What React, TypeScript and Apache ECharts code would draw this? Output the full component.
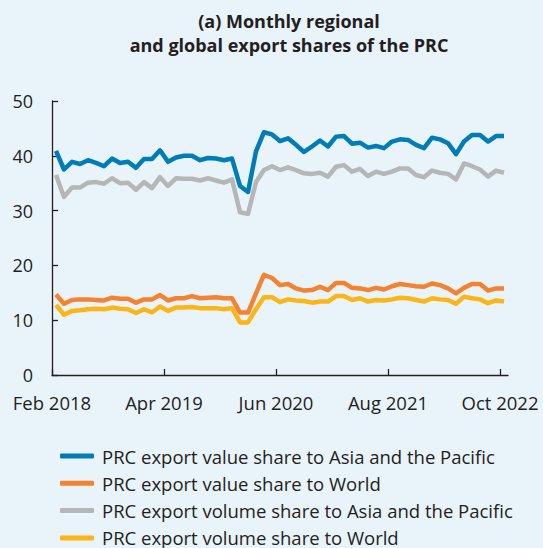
import React, { useEffect, useRef } from "react";
import * as echarts from "echarts";

const tickIndexes = [0, 14, 28, 42, 56];
const tickLabels = ["Feb 2018", "Apr 2019", "Jun 2020", "Aug 2021", "Oct 2022"];

const seriesNames = [
  "PRC export value share to Asia and the Pacific",
  "PRC export value share to World",
  "PRC export volume share to Asia and the Pacific",
  "PRC export volume share to World",
];

const valueAsia = [
  40.9, 37.5, 38.9, 38.5, 39.2, 38.7, 38.1, 39.5, 38.7, 38.9,
  37.8, 39.4, 39.4, 41.0, 38.9, 39.7, 40.0, 40.0, 39.2, 39.6,
  39.5, 39.2, 39.5, 34.5, 33.4, 40.8, 44.3, 43.9, 42.7, 43.2,
  42.0, 40.7, 41.7, 42.8, 41.7, 43.5, 43.6, 42.2, 42.4, 41.5,
  41.8, 41.4, 42.6, 43.0, 42.9, 42.0, 41.4, 43.3, 43.0, 42.3,
  40.3, 42.6, 43.8, 43.8, 42.6, 43.6, 43.6,
];

const valueWorld = [
  14.7, 13.0, 13.7, 13.8, 13.8, 13.7, 13.6, 14.1, 13.9, 13.9,
  13.2, 13.8, 13.8, 14.6, 13.6, 14.0, 14.0, 14.4, 14.0, 14.1,
  14.2, 14.0, 14.0, 11.4, 11.4, 14.9, 18.3, 17.7, 16.4, 16.6,
  15.8, 15.4, 15.5, 16.1, 15.5, 16.8, 16.8, 15.9, 15.8, 15.5,
  15.9, 15.6, 16.2, 16.6, 16.4, 16.2, 16.1, 16.7, 16.4, 15.8,
  14.9, 15.9, 16.6, 16.6, 15.4, 15.8, 15.8,
];

const volumeAsia = [
  36.5, 32.5, 34.2, 34.2, 35.1, 35.2, 34.9, 35.9, 35.0, 35.1,
  33.8, 35.2, 34.1, 36.1, 34.5, 35.9, 35.8, 35.8, 35.5, 35.9,
  35.5, 35.1, 35.7, 29.7, 29.4, 35.2, 37.4, 38.1, 37.4, 37.9,
  37.4, 36.8, 36.7, 36.9, 36.2, 38.0, 38.3, 37.1, 37.6, 36.3,
  37.1, 36.7, 37.1, 37.7, 37.7, 36.5, 36.1, 37.3, 36.9, 36.7,
  35.7, 38.6, 38.1, 37.5, 36.2, 37.3, 36.9,
];

const volumeWorld = [
  12.8, 11.0, 11.7, 11.8, 12.0, 12.1, 12.0, 12.3, 12.1, 12.0,
  11.3, 12.0, 11.4, 12.5, 11.7, 12.3, 12.3, 12.4, 12.2, 12.2,
  12.2, 12.0, 12.2, 9.6, 9.6, 12.0, 14.2, 14.2, 13.3, 13.8,
  13.6, 13.5, 13.2, 13.4, 13.4, 14.4, 14.4, 13.7, 14.0, 13.4,
  13.7, 13.6, 13.8, 14.1, 14.0, 13.7, 13.4, 14.0, 13.8, 13.7,
  13.0, 14.3, 14.0, 13.8, 13.1, 13.6, 13.4,
];

const colors = ["#007DB7", "#F5822F", "#B5B6B8", "#FDB515"];
const seriesValues = [valueAsia, valueWorld, volumeAsia, volumeWorld];

const FONT = "'Open Sans', 'Noto Sans', sans-serif";
const TEXT = "#231F20";

export default function App() {
  const ref = useRef<HTMLDivElement>(null);

  useEffect(() => {
    if (!ref.current) return;
    const chart = echarts.init(ref.current, undefined, { renderer: "svg" });
    const nMonths = valueAsia.length;
    const series = seriesValues.map((vals, k) => ({
      name: seriesNames[k],
      type: "line",
      data: vals.map((v, i) => [i + 0.5, v]),
      showSymbol: false,
      symbol: "none",
      lineStyle: { color: colors[k], width: 4.5, join: "round" },
      itemStyle: { color: colors[k] },
      z: 10 - k,
    }));
    chart.setOption({
      animation: false,
      backgroundColor: "#E9F3FA",
      textStyle: { fontFamily: FONT },
      title: {
        text: "(a) Monthly regional\nand global export shares of the PRC",
        left: 284,
        top: 4,
        textAlign: "center",
        textStyle: {
          fontFamily: FONT,
          fontWeight: "bold",
          fontSize: 18,
          lineHeight: 24,
          color: TEXT,
        },
      },
      legend: {
        orient: "vertical",
        left: 55,
        top: 441,
        height: 160,
        itemWidth: 34,
        itemHeight: 5,
        itemGap: 7.3,
        icon: "roundRect",
        data: seriesNames,
        textStyle: {
          fontFamily: FONT,
          fontSize: 18.5,
          color: TEXT,
          lineHeight: 20,
          padding: [0, 0, 0, 3],
        },
      },
      grid: { left: 52, right: 35, top: 101, bottom: 173, containLabel: false },
      xAxis: {
        type: "value",
        min: 0,
        max: nMonths,
        interval: 14,
        axisLine: { show: true, lineStyle: { color: TEXT, width: 1.3 } },
        axisTick: {
          show: true,
          inside: true,
          length: 6,
          lineStyle: { color: TEXT, width: 1.3 },
          customValues: tickIndexes,
        },
        axisLabel: {
          customValues: tickIndexes,
          formatter: (v: number) => {
            const idx = tickIndexes.indexOf(Math.round(v));
            return idx >= 0 ? tickLabels[idx] : "";
          },
          fontFamily: FONT,
          fontSize: 18.5,
          color: TEXT,
          margin: 18,
        },
        splitLine: { show: false },
      },
      yAxis: {
        type: "value",
        min: 0,
        max: 50,
        interval: 10,
        axisLine: { show: true, lineStyle: { color: TEXT, width: 1.3 } },
        axisTick: {
          show: true,
          inside: true,
          length: 6,
          lineStyle: { color: TEXT, width: 1.3 },
        },
        axisLabel: {
          fontFamily: FONT,
          fontSize: 18,
          color: TEXT,
          margin: 19,
        },
        splitLine: { show: false },
      },
      series,
    });
    return () => chart.dispose();
  }, []);

  return (
    <div
      ref={ref}
      style={{ position: "fixed", left: 0, top: 0, width: 543, height: 548 }}
    />
  );
}
